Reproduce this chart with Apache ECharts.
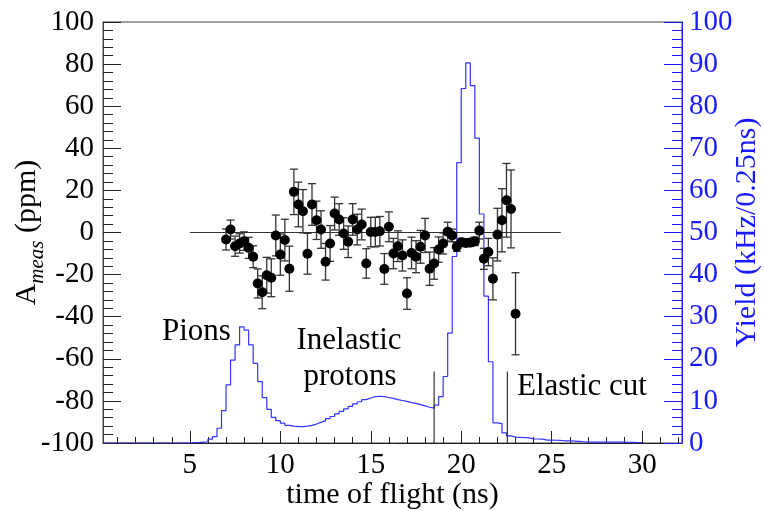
<!DOCTYPE html>
<html>
<head>
<meta charset="utf-8">
<script src="https://cdn.jsdelivr.net/npm/echarts@6/dist/echarts.min.js"></script>
<style>
  html, body { margin: 0; padding: 0; background: #fff; }
  #chart { width: 764px; height: 511px; }
</style>
</head>
<body>
<div id="chart"></div>
<script>
// measured asymmetry (ppm) vs time of flight (ns)
const tof = [
  7.0, 7.25, 7.5, 7.75, 8.0, 8.25, 8.5, 8.75, 9.0, 9.25, 9.5, 9.75,
  10.0, 10.25, 10.5, 10.75, 11.0, 11.25, 11.5, 11.75, 12.0, 12.25, 12.5, 12.75,
  13.0, 13.25, 13.5, 13.75, 14.0, 14.25, 14.5, 14.75, 15.0, 15.25, 15.5, 15.75,
  16.0, 16.25, 16.5, 16.75, 17.0, 17.25, 17.5, 17.75, 18.0, 18.25, 18.5, 18.75,
  19.0, 19.25, 19.5, 19.75, 20.0, 20.25, 20.5, 20.75, 21.0, 21.25, 21.5, 21.75,
  22.0, 22.25, 22.5, 22.75, 23.0
]
const ameas = [
  -3.3, 1.4, -6.5, -5.2, -4.1, -7.3, -11.5, -24.2, -28.4, -20.3, -21.5, -1.4,
  -10.5, -3.6, -17.2, 19.3, 13.3, 10.1, -10.1, 13.3, 5.8, 1.4, -13.9, -5.2,
  9.0, 6.2, -0.5, -4.4, 6.2, 1.4, 3.8, -14.7, 0.2, 0.2, 0.6, -17.3,
  2.7, -10.0, -6.5, -10.9, -29.0, -9.7, -11.5, -6.8, -1.4, -17.2, -14.7, -8.1,
  -5.2, 0.4, -1.4, -6.8, -4.6, -5.0, -4.8, -4.2, 0.9, -12.5, -9.3, -22.0,
  -1.0, 5.8, 15.3, 11.2, -38.6
]
const ameasErr = [
  5.0, 4.5, 4.8, 4.6, 4.4, 5.0, 5.2, 6.9, 7.8, 8.5, 9.0, 9.7,
  9.8, 9.9, 10.7, 10.8, 10.6, 10.3, 9.7, 9.9, 9.1, 8.9, 8.7, 8.5,
  7.8, 7.5, 7.5, 7.5, 7.5, 7.3, 7.3, 7.0, 7.0, 7.0, 7.0, 7.3,
  7.1, 7.2, 7.3, 7.4, 7.5, 7.5, 7.6, 7.8, 8.1, 7.9, 7.5, 6.0,
  5.0, 4.5, 3.0, 2.2, 1.8, 1.7, 1.8, 2.0, 4.0, 5.0, 6.5, 10.0,
  12.5, 15.0, 17.5, 18.5, 19.5
]

// yield histogram (kHz / 0.25 ns), bins of 0.25 ns starting at 0.25 ns
const binStart = 0.25
const binWidth = 0.25
const yieldKHz = [
  0, 0, 0, 0, 0, 0, 0, 0, 0, 0, 0, 0, 0, 0, 0, 0, 0, 0, 0,
  0.1, 0.1, 0.2, 0.3, 0.9, 1.5, 3.5, 7.7,
  13.8, 19.7, 23.3, 27.6, 26.8, 23.3, 18.9, 14.6,
  10.8, 8.0, 6.1, 5.3, 4.7, 4.2, 4.0, 3.9,
  3.9, 4.0, 4.2, 4.5, 4.9, 5.3, 5.8, 6.3,
  6.9, 7.5, 8.1, 8.7, 9.3, 9.8, 10.3, 10.7,
  11.0, 11.1, 11.0, 10.8, 10.6, 10.3, 10.1, 9.9,
  9.6, 9.4, 9.1, 8.8, 8.5, 8.3, 9.0, 11.0,
  15.8, 26.1, 44.3, 66.6, 84.2, 90.3, 84.9, 72.4,
  54.4, 34.9, 19.3, 4.8, 4.6, 2.4, 1.7, 1.4,
  1.35, 1.3, 1.2, 1.0, 0.95, 0.9, 0.7, 0.7,
  0.65, 0.6, 0.5, 0.5, 0.45, 0.4, 0.3, 0.2,
  0.2, 0.2, 0.2, 0.2, 0.2, 0.2, 0.2, 0.2,
  0.15, 0.15, 0.1, 0.1
]

const xMajor = [5, 10, 15, 20, 25, 30]
const xMinor = [1, 2, 3, 4, 6, 7, 8, 9, 11, 12, 13, 14, 16, 17, 18, 19, 21, 22, 23, 24, 26, 27, 28, 29, 31, 32]
const zeroLine = [[5, 0], [25.5, 0]]
const pionCut = [[18.5, 0], [18.5, 17]]
const elasticCut = [[22.55, 0], [22.55, 17]]

const serif = "'Liberation Serif', 'DejaVu Serif', serif"
const blue = "#1a1aff"

let histData = yieldKHz.map((v, i) => [binStart + i * binWidth, v])
histData.push([binStart + yieldKHz.length * binWidth, 0])

const errData = tof.map((t, i) => [t, ameas[i] - ameasErr[i], ameas[i] + ameasErr[i]])
const pointData = tof.map((t, i) => [t, ameas[i]])

const chart = echarts.init(document.getElementById("chart"))

const option = {
  animation: false,
  grid: {
    left: 103, right: 82, top: 22, bottom: 68,
    outerBoundsMode: "none", containLabel: false,
    show: true, borderColor: "#444", borderWidth: 1
  },
  xAxis: [
    {
      type: "value", min: 0.2, max: 32.2, position: "bottom",
      axisLine: { onZero: false, lineStyle: { color: "#222", width: 1 } },
      axisTick: { inside: true, length: 12, customValues: xMajor, lineStyle: { color: "#222" } },
      axisLabel: { customValues: xMajor, fontFamily: serif, fontSize: 29, color: "#000", margin: 8 },
      splitLine: { show: false },
      name: "time of flight (ns)", nameLocation: "middle", nameGap: 37, nameMoveOverlap: false,
      nameTextStyle: { fontFamily: serif, fontSize: 30, color: "#000" }
    },
    {
      type: "value", min: 0.2, max: 32.2, position: "bottom",
      axisLine: { show: false, onZero: false },
      axisTick: { inside: true, length: 6, customValues: xMinor, lineStyle: { color: "#222" } },
      axisLabel: { show: false },
      splitLine: { show: false }
    }
  ],
  yAxis: [
    {
      type: "value", min: -100, max: 100, interval: 20, position: "left",
      axisLine: { show: true, lineStyle: { color: "#444" } },
      axisTick: { inside: true, length: 18, lineStyle: { color: "#222" } },
      minorTick: { show: true, splitNumber: 5, length: 10, lineStyle: { color: "#222" } },
      axisLabel: { fontFamily: serif, fontSize: 29, color: "#000", margin: 9 },
      splitLine: { show: false },
      name: "{a|A}{s|meas}{a| (ppm)}", nameLocation: "middle", nameGap: 55, nameRotate: 90,
      nameMoveOverlap: false,
      nameTextStyle: {
        fontFamily: serif, fontSize: 30, color: "#000",
        rich: {
          a: { fontFamily: serif, fontSize: 30, color: "#000", verticalAlign: "bottom", padding: [0, 0, 6, 0] },
          s: { fontFamily: serif, fontSize: 21, fontStyle: "italic", color: "#000", verticalAlign: "bottom" }
        }
      }
    },
    {
      type: "value", min: 0, max: 100, interval: 10, position: "right",
      axisLine: { show: true, lineStyle: { color: blue } },
      axisTick: { inside: true, length: 18, lineStyle: { color: blue } },
      minorTick: { show: true, splitNumber: 5, length: 10, lineStyle: { color: blue } },
      axisLabel: { fontFamily: serif, fontSize: 29, color: blue, margin: 7 },
      splitLine: { show: false },
      name: "Yield (kHz/0.25ns)", nameLocation: "middle", nameGap: 50, nameRotate: 90,
      nameMoveOverlap: false,
      nameTextStyle: { fontFamily: serif, fontSize: 30, color: blue }
    }
  ],
  series: [
    {
      type: "line", name: "yield", yAxisIndex: 1, step: "end",
      data: histData, showSymbol: false, z: 2,
      lineStyle: { color: "#3333ff", width: 1.2 }
    },
    {
      type: "line", yAxisIndex: 0, data: zeroLine, showSymbol: false, z: 3,
      lineStyle: { color: "#333", width: 1.2 }
    },
    {
      type: "line", yAxisIndex: 1, data: pionCut, showSymbol: false, z: 3,
      lineStyle: { color: "#333", width: 1.2 }
    },
    {
      type: "line", yAxisIndex: 1, data: elasticCut, showSymbol: false, z: 3,
      lineStyle: { color: "#333", width: 1.2 }
    },
    {
      type: "custom", yAxisIndex: 0, data: errData, z: 4,
      encode: { x: 0, y: [1, 2] },
      renderItem: (params, api) => {
        const lo = api.coord([api.value(0), api.value(1)])
        const hi = api.coord([api.value(0), api.value(2)])
        const w = 4
        const st = { stroke: "#333", lineWidth: 1.3 }
        return {
          type: "group",
          children: [
            { type: "line", shape: { x1: lo[0], y1: lo[1], x2: hi[0], y2: hi[1] }, style: st },
            { type: "line", shape: { x1: lo[0] - w, y1: lo[1], x2: lo[0] + w, y2: lo[1] }, style: st },
            { type: "line", shape: { x1: hi[0] - w, y1: hi[1], x2: hi[0] + w, y2: hi[1] }, style: st }
          ]
        }
      }
    },
    {
      type: "scatter", yAxisIndex: 0, data: pointData, z: 5,
      symbol: "circle", symbolSize: 10,
      itemStyle: { color: "#000", opacity: 1 }
    }
  ],
  graphic: [
    { type: "text", left: 162, top: 316, style: { text: "Pions", font: "31px " + serif, fill: "#000" } },
    { type: "text", x: 349, y: 341, style: { text: "Inelastic", font: "31px " + serif, fill: "#000", textAlign: "center", textVerticalAlign: "middle" } },
    { type: "text", x: 350, y: 377, style: { text: "protons", font: "31px " + serif, fill: "#000", textAlign: "center", textVerticalAlign: "middle" } },
    { type: "text", x: 517, y: 387, style: { text: "Elastic cut", font: "31px " + serif, fill: "#000", textAlign: "left", textVerticalAlign: "middle" } }
  ]
}

chart.setOption(option)
</script>
</body>
</html>
